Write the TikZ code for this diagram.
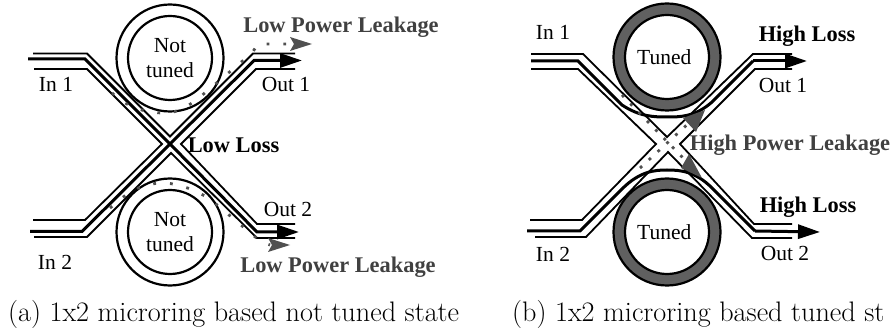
\documentclass[tikz,border=0pt]{standalone}
\usepackage{fontspec}
\setmainfont{Liberation Serif}
\newfontfamily\capfont{Latin Modern Roman}
\usetikzlibrary{arrows.meta}

\definecolor{leakgrey}{HTML}{505050}
\definecolor{leaktext}{HTML}{404040}
\definecolor{ringgrey}{HTML}{606060}

\begin{document}
\begin{tikzpicture}[x=1pt, y=-1pt, font=\fontsize{21.5}{25}\selectfont,
	ring/.style = { circle, draw=black, line width=2.2pt, fill=white, inner sep=0pt,
	minimum size=107pt, align=center },
	hole/.style = { circle, draw=black, line width=2.2pt, fill=white, inner sep=0pt,
	minimum size=84pt, align=center },
	tunedring/.style = { ring, fill=ringgrey },
	guide/.style = { line width=1.8pt, line join=miter },
	core/.style = { line width=3pt },
	corearrow/.style = { core, -{Triangle[length=22pt, width=14pt]} },
	leak/.style = { draw=leakgrey, line width=2.8pt, dash pattern=on 2.8pt off 14pt },
	leakb/.style = { leak, dash pattern=on 2.8pt off 9.2pt },
	leakhead/.style = { fill=leakgrey, draw=none },
	boldlabel/.style = { font=\fontsize{22.4}{24}\selectfont\bfseries },
	leaklabel/.style = { boldlabel, text=leaktext },
	caption/.style = { font=\fontsize{28.2}{30}\capfont, anchor=west, inner sep=0pt } ]

  \useasboundingbox (0,0) rectangle (893,336);

  % (a) not tuned
  \node [name=ringa, ring] at (170,58) {};
  \node [name=holea, hole] at (170,58) { Not\\tuned };
  \node [name=ringb, ring] at (170,232) {};
  \node [name=holeb, hole] at (170,232) { Not\\tuned };

  \coordinate (xa) at (170,144);
  \draw [guide] (33,53.5) -- (87,53.5) -- (170,136.5) -- (253,53.5) -- (295,53.5);
  \draw [guide] (34,69) -- (87,69) -- (162,144) -- (85,220) -- (33,220);
  \draw [guide] (295,69) -- (256,69) -- (181,144) -- (257,224) -- (295,224);
  \draw [guide] (34,237) -- (87,237) -- (171,153) -- (257,238) -- (295,238);
  \draw [corearrow] (28,59) -- (85,59) -- (xa) -- (257,232) -- (299,232);
  \draw [corearrow] (30,231.5) -- (82,231.5) -- (xa) -- (254,60.5) -- (302,60.5);

  \draw [leak] (112,93) .. controls (130,110) and (150,113) .. (165,113)
	.. controls (178,113) and (190,105) .. (200,97) -- (252,53) -- (258,44) -- (292,44);
  \fill [leakhead] (312,44) -- (290,37) -- (294,44) -- (290,51) -- cycle;
  \draw [leak] (110,208) -- (127,194) .. controls (140,186) and (150,183) .. (165,183)
	.. controls (180,184) and (195,190) .. (210,199) -- (260,241) -- (270,245);
  \fill [leakhead] (290,245) -- (268,238) -- (272,245) -- (268,252) -- cycle;

  \node [name=ina1] at (56,84) { In 1 };
  \node [name=ina2] at (55,262) { In 2 };
  \node [name=outa1] at (286,84) { Out 1 };
  \node [name=outa2] at (288,209) { Out 2 };
  \node [name=lowloss, boldlabel] at (233.5,145) { Low Loss };
  \node [name=leaka1, leaklabel] at (341,27) { Low Power Leakage };
  \node [name=leaka2, leaklabel] at (338,267) { Low Power Leakage };
  \node [name=capa, caption] at (8,314) { (a) 1x2 microring based not tuned state };

  % (b) tuned
  \node [name=ringc, tunedring] at (667,57) {};
  \node [name=holec, hole] at (667,57) { Tuned };
  \node [name=ringd, tunedring] at (667,232) {};
  \node [name=holed, hole] at (667,232) { Tuned };

  \draw [guide] (531,54) -- (583,54) -- (667,137) -- (753,54) -- (792,54);
  \draw [guide] (531,69) -- (578,69) -- (656,144) -- (582,220) -- (530,220);
  \draw [guide] (792,69) -- (755,69) -- (680,144) -- (754,224) -- (792,224);
  \draw [guide] (535,237) -- (586,237) -- (668,152) -- (752,238) -- (792,238);
  \draw [core] (531,61) -- (578,61) -- (622,105) .. controls (640,117) and (655,117) .. (667,117)
	.. controls (680,117) and (695,117) .. (712,102) -- (753,61);
  \draw [corearrow] (753,61) -- (807,61);
  \draw [core] (527,231) -- (580,231) -- (622,189) .. controls (640,171) and (655,170) .. (667,170)
	.. controls (680,170) and (695,171) .. (712,188) -- (755,231);
  \draw [corearrow] (755,231) -- (820,232);

  \draw [leakb] (622,95) -- (686,161);
  \draw [leakb] (640,168) -- (690,122);
  \fill [leakhead] (705,110) -- (683,118) -- (696,132) -- cycle;
  \fill [leakhead] (702,178) -- (689,154) -- (681,168) -- cycle;

  \node [name=inc1] at (553,32) { In 1 };
  \node [name=inc2] at (553,254) { In 2 };
  \node [name=outc1] at (783,85) { Out 1 };
  \node [name=outc2] at (785,253) { Out 2 };
  \node [name=highloss1, boldlabel] at (807,36) { High Loss };
  \node [name=highloss2, boldlabel] at (808,207) { High Loss };
  \node [name=leakc, leaklabel] at (790,145) { High Power Leakage };
  \node [name=capc, caption] at (512,314) { (b) 1x2 microring based tuned st };
\end{tikzpicture}
\end{document}
